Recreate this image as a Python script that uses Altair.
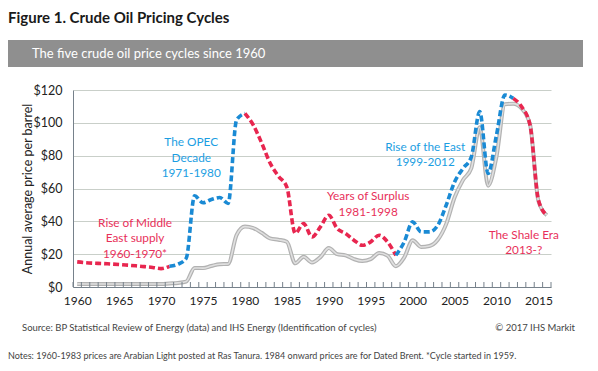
import altair as alt
import pandas as pd

# ---------------- data ----------------
years = list(range(1960, 2017))

real_price = [15.3, 14.8, 14.5, 14.3, 14.0, 13.7, 13.3, 12.9, 12.4, 11.9,
              11.2, 12.6, 13.8, 17.5, 55.5, 51.3, 53.3, 54.5, 50.9, 101.7,
              105.8, 98.6, 87.7, 75.5, 67.5, 60.8, 32.7, 38.7, 30.5, 36.6,
              43.7, 35.6, 32.6, 28.5, 25.4, 27.5, 31.5, 27.5, 19.3, 27.5,
              39.7, 33.6, 33.6, 37.6, 49.8, 64.0, 72.2, 79.3, 106.8, 69.2,
              92.6, 117.0, 114.9, 109.8, 98.7, 52.9, 43.7]

nominal_price = [1.9, 1.8, 1.8, 1.8, 1.8, 1.8, 1.8, 1.8, 1.8, 1.8,
                 1.8, 2.2, 2.5, 3.3, 11.6, 11.5, 12.8, 13.9, 14.0, 31.6,
                 36.8, 35.9, 33.0, 29.6, 28.8, 27.6, 14.4, 18.4, 14.9, 18.2,
                 23.7, 20.0, 19.3, 17.0, 15.8, 17.0, 20.7, 19.1, 12.7, 18.0,
                 28.5, 24.4, 25.0, 28.8, 38.3, 54.5, 65.1, 72.4, 97.3, 61.7,
                 79.5, 111.3, 111.7, 108.7, 99.0, 52.4, 43.7]

cycle_names = ["Rise of Middle East supply", "The OPEC Decade", "Years of Surplus",
               "Rise of the East", "The Shale Era"]
cycle_start = [1960, 1971, 1980, 1998, 2012]
cycle_end = [1971, 1980, 1998, 2012, 2016]

anno_lines = [["Rise of Middle", "East supply", "1960-1970*"],
              ["The OPEC", "Decade", "1971-1980"],
              ["Years of Surplus", "1981-1998"],
              ["Rise of the East", "1999-2012"],
              ["The Shale Era", "2013-?"]]
anno_year = [1966.9, 1973.6, 1994.7, 2001.5, 2013.25]
anno_price = [39.0, 88.3, 55.4, 85.5, 31.7]

y_ticks = [0, 20, 40, 60, 80, 100, 120]
x_label_years = [1960, 1965, 1970, 1975, 1980, 1985, 1990, 1995, 2000, 2005, 2010, 2015]
tick_positions = [y - 0.5 for y in range(1960, 2018)]

# ---------------- styling ----------------
RED = "#e8264f"
BLUE = "#1a8ad4"
RED_TXT = "#e8305a"
BLUE_TXT = "#1b9ee2"
cycle_colors = [RED, BLUE, RED, BLUE, RED]
anno_colors = [RED_TXT, BLUE_TXT, RED_TXT, BLUE_TXT, RED_TXT]
FONT = "Lato"
AXIS_COL = "#76818b"
W, H = 478, 197

# ---------------- tables ----------------
nominal_df = pd.DataFrame({"year": years, "price": nominal_price})
rows = []
for name, s, e in zip(cycle_names, cycle_start, cycle_end):
    for yr, p in zip(years, real_price):
        if s <= yr <= e:
            rows.append({"cycle": name, "year": yr, "price": p})
real_df = pd.DataFrame(rows)
anno_df = pd.DataFrame({"label": ["\n".join(l) for l in anno_lines],
                        "year": anno_year, "price": anno_price, "tcolor": anno_colors})
tick_df = pd.DataFrame({"year": tick_positions})

x_scale = alt.Scale(domain=[1959.5, 2016.5], nice=False, zero=False)
y_scale = alt.Scale(domain=[0, 120], nice=False)
x_axis = alt.Axis(values=x_label_years, ticks=False, grid=False, domainColor=AXIS_COL,
                  labelFont=FONT, labelFontSize=12, labelColor="#222", labelPadding=8,
                  labelOverlap=False, format="d", title=None)
y_axis = alt.Axis(values=y_ticks, ticks=False, grid=True, gridColor="#c9cfc9",
                  domainColor=AXIS_COL, labelFont=FONT, labelFontSize=12.5, labelColor="#222",
                  labelPadding=11, labelExpr="'$' + datum.value", title=None)


def X(f):
    return alt.X(f, scale=x_scale, axis=x_axis, title=None)


def Y(f):
    return alt.Y(f, scale=y_scale, axis=y_axis, title=None)


grey_outer = alt.Chart(nominal_df).mark_line(color="#b2b2b2", strokeWidth=4.0,
                                             interpolate="monotone").encode(
    x=X("year:Q"), y=Y("price:Q"))
grey_inner = alt.Chart(nominal_df).mark_line(color="#e0e0e0", strokeWidth=1.6,
                                             interpolate="monotone").encode(
    x=X("year:Q"), y=Y("price:Q"))

dashed = alt.Chart(real_df).mark_line(strokeWidth=3.6, strokeDash=[6, 3],
                                      interpolate="monotone").encode(
    x=X("year:Q"), y=Y("price:Q"),
    color=alt.Color("cycle:N", scale=alt.Scale(domain=cycle_names, range=cycle_colors),
                    legend=None),
    detail="cycle:N")

ticks = alt.Chart(tick_df).mark_rule(color=AXIS_COL, strokeWidth=1).encode(
    x=X("year:Q"), y=alt.value(H - 5), y2=alt.value(H))

annos = alt.Chart(anno_df).mark_text(font=FONT, fontSize=11.8, lineBreak="\n",
                                     lineHeight=15.5, baseline="middle", align="center").encode(
    x=X("year:Q"), y=Y("price:Q"), text="label:N",
    color=alt.Color("tcolor:N", scale=None))

one = pd.DataFrame({"a": [0]})


def txt(s, x, y, **kw):
    return alt.Chart(one).mark_text(font=FONT, **kw).encode(
        x=alt.value(x), y=alt.value(y), text=alt.value(s))


banner = alt.Chart(one).mark_rect(color="#8f8f8f").encode(
    x=alt.value(-65), x2=alt.value(510), y=alt.value(-50), y2=alt.value(-23))

title = txt("Figure 1. Crude Oil Pricing Cycles", -65, -72, fontSize=15, fontWeight="bold",
            color="#1a1a1a", align="left", baseline="middle")
banner_txt = txt("The five crude oil price cycles since 1960", -41, -36.5, fontSize=13,
                 color="white", align="left", baseline="middle")
ytitle = txt("Annual average price per barrel", -45, 99, fontSize=12.5, color="#222",
             angle=270, align="center", baseline="middle")
source = txt("Source: BP Statistical Review of Energy (data) and IHS Energy (Identification of cycles)",
             -51, 238, fontSize=9.5, color="#444", align="left", baseline="middle")
copyr = txt("\u00a9 2017 IHS Markit", 502, 238, fontSize=9.5, color="#444", align="right",
            baseline="middle")
notes = txt("Notes: 1960-1983 prices are Arabian Light posted at Ras Tanura. 1984 onward prices are for Dated Brent. *Cycle started in 1959.",
            -65, 266, fontSize=9, color="#444", align="left", baseline="middle")

chart = alt.layer(grey_outer, grey_inner, dashed, ticks, annos, banner, title, banner_txt,
                  ytitle, source, copyr, notes).properties(
    width=W, height=H,
    autosize=alt.AutoSizeParams(type="none"),
    padding={"left": 65, "top": 82, "right": 39, "bottom": 76},
    background="white",
).configure_view(stroke=None)

chart.save("out.html", embed_options={"renderer": "svg", "actions": False})
